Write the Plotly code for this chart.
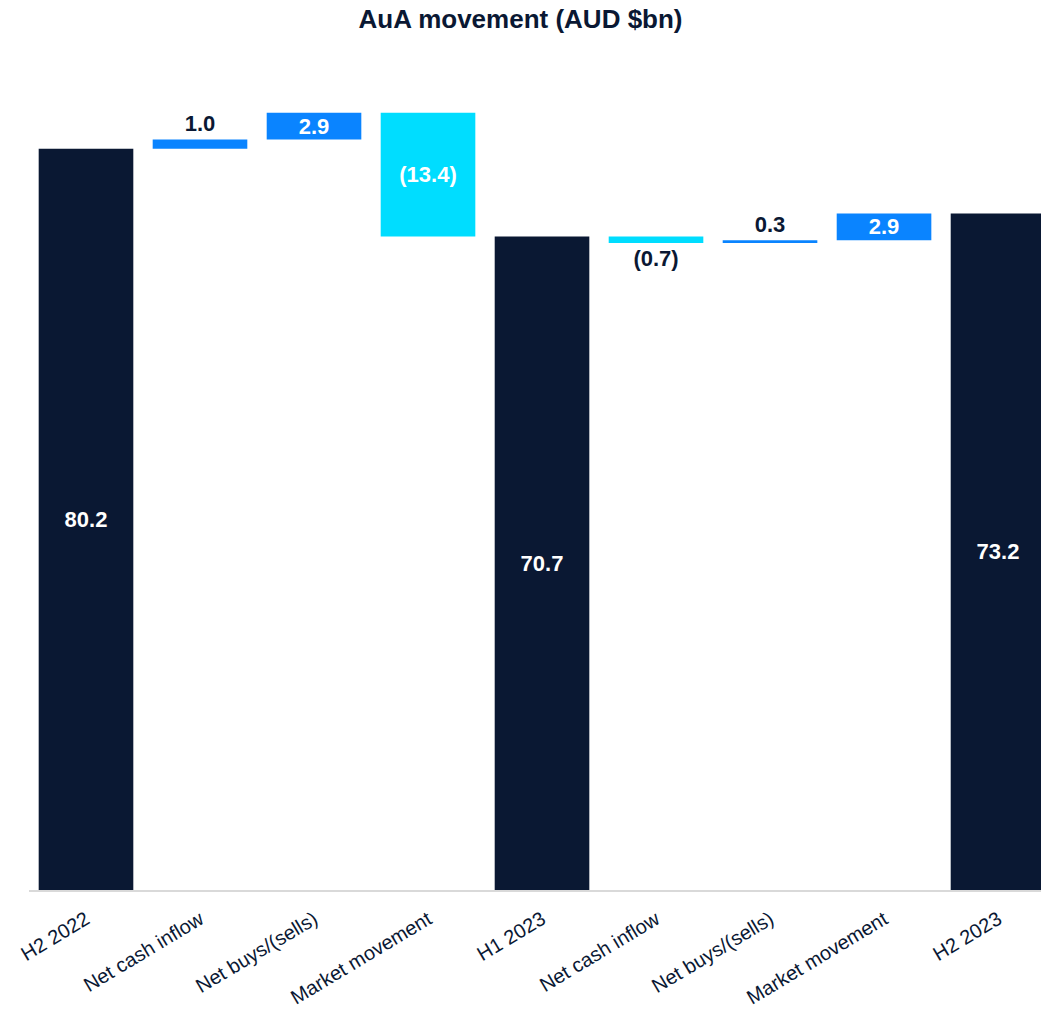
import plotly.graph_objects as go

# AuA waterfall: opening balance, movements, interim total, movements, closing balance
categories = ["H2 2022", "Net cash inflow", "Net buys/(sells)", "Market movement",
              "H1 2023", "Net cash inflow ", "Net buys/(sells) ", "Market movement ", "H2 2023"]
tick_labels = ["H2 2022", "Net cash inflow", "Net buys/(sells)", "Market movement",
               "H1 2023", "Net cash inflow", "Net buys/(sells)", "Market movement", "H2 2023"]
values = [80.2, 1.0, 2.9, -13.4, 70.7, -0.7, 0.3, 2.9, 73.2]
measures = ["absolute", "relative", "relative", "relative", "total",
            "relative", "relative", "relative", "total"]

NAVY = "#0A1833"
BLUE = "#0A84FF"
CYAN = "#00DDFF"
FONT = "Liberation Sans, Arial, sans-serif"

def fmt(v):
    return f"({abs(v):.1f})" if v < 0 else f"{v:.1f}"

labels = [fmt(v) for v in values]
# thin movement bars carry their label outside; larger bars carry it inside
text_pos = ["inside", "outside", "inside", "inside", "inside",
            "outside", "outside", "inside", "inside"]
text_col = ["white" if p == "inside" else NAVY for p in text_pos]

fig = go.Figure(go.Waterfall(
    x=categories,
    y=values,
    measure=measures,
    text=labels,
    texttemplate="<b>%{text}</b>",
    textposition=text_pos,
    insidetextanchor="middle",
    textfont=dict(family=FONT, size=22, color=text_col),
    constraintext="none",
    cliponaxis=False,
    increasing=dict(marker=dict(color=BLUE)),
    decreasing=dict(marker=dict(color=CYAN)),
    totals=dict(marker=dict(color=NAVY)),
    connector=dict(visible=False),
    width=0.83,
))

fig.update_layout(
    width=1041, height=1013,
    margin=dict(l=29, r=0, t=60, b=123),
    paper_bgcolor="white", plot_bgcolor="white",
    showlegend=False,
    title=dict(text="<b>AuA movement (AUD $bn)</b>", x=0.5, xanchor="center",
               y=0.99, yanchor="top",
               font=dict(family=FONT, size=26, color=NAVY)),
    font=dict(family=FONT, color=NAVY),
    xaxis=dict(
        tickmode="array", tickvals=categories, ticktext=tick_labels,
        tickangle=-31, tickfont=dict(size=20, color=NAVY),
        ticklabelstandoff=8,
        showline=True, linecolor="#D9D9D9", linewidth=2,
        showgrid=False, ticks="", range=[-0.5, 8.377],
    ),
    yaxis=dict(visible=False, range=[0, 89.8], showgrid=False, zeroline=False),
)

fig.write_html("out.html")
